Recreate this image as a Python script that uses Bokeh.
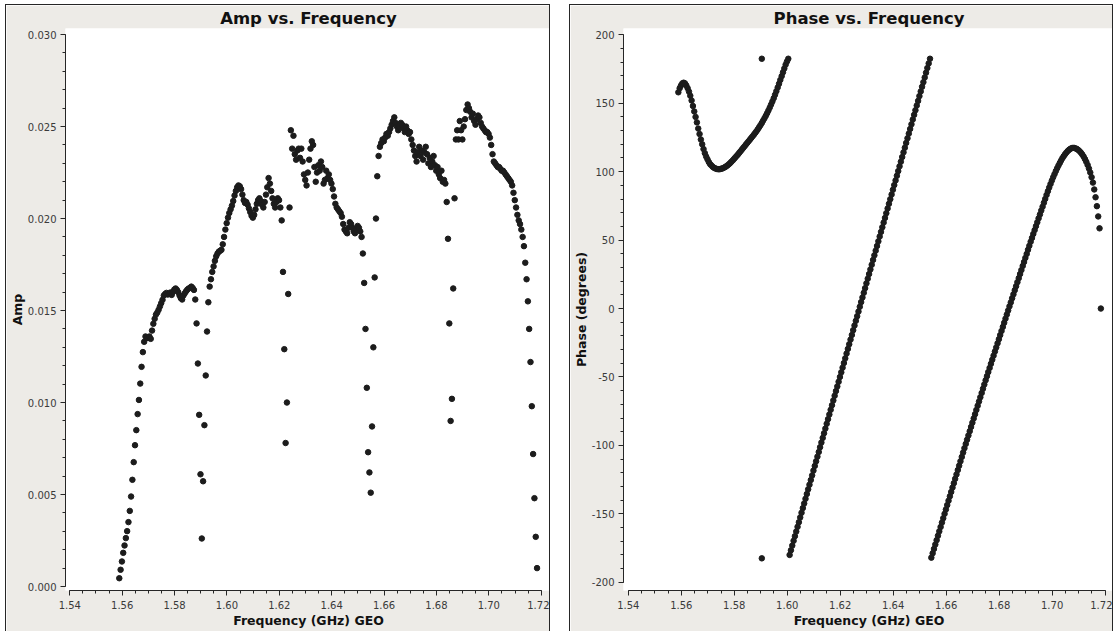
import numpy as np
from bokeh.plotting import figure
from bokeh.layouts import row
from bokeh.models import Range1d, SingleIntervalTicker, NumeralTickFormatter
from bokeh.embed import file_html
from bokeh.resources import INLINE

# Channel grid: 5 sub-bands x 64 channels, 0.5 MHz wide
FIRST_CHANNEL_GHZ = 1.5589
CHANNEL_WIDTH_GHZ = 0.0005
N_CHANNELS = 320

# Visibility amplitude per channel
AMP = [
    # sub-band 1
    0.00045, 0.00091, 0.00136, 0.00183, 0.00223, 0.00263, 0.00301, 0.00350, 0.00411, 0.00489,
    0.00580, 0.00676, 0.00768, 0.00850, 0.00937, 0.01014, 0.01103, 0.01194, 0.01274, 0.01330,
    0.01359, 0.01351, 0.01351, 0.01359, 0.01346, 0.01391, 0.01428, 0.01455, 0.01478, 0.01489,
    0.01504, 0.01522, 0.01540, 0.01558, 0.01582, 0.01590, 0.01596, 0.01587, 0.01590, 0.01598,
    0.01585, 0.01601, 0.01614, 0.01620, 0.01612, 0.01600, 0.01582, 0.01567, 0.01560, 0.01582,
    0.01594, 0.01605, 0.01614, 0.01620, 0.01623, 0.01630, 0.01623, 0.01612, 0.01560, 0.01430,
    0.01212, 0.00933, 0.00610, 0.00261,
    # sub-band 2
    0.00572, 0.00877, 0.01147, 0.01386, 0.01545, 0.01630, 0.01670, 0.01710, 0.01740, 0.01770,
    0.01795, 0.01810, 0.01820, 0.01825, 0.01830, 0.01860, 0.01900, 0.01940, 0.01975, 0.02005,
    0.02030, 0.02050, 0.02070, 0.02095, 0.02125, 0.02150, 0.02170, 0.02180, 0.02175, 0.02160,
    0.02130, 0.02100, 0.02085, 0.02090, 0.02075, 0.02055, 0.02035, 0.02015, 0.02005, 0.02020,
    0.02050, 0.02080, 0.02100, 0.02110, 0.02095, 0.02075, 0.02060, 0.02090, 0.02130, 0.02170,
    0.02220, 0.02190, 0.02150, 0.02110, 0.02080, 0.02060, 0.02090, 0.02110, 0.02100, 0.02060,
    0.01990, 0.01710, 0.01290, 0.00780,
    # sub-band 3
    0.01000, 0.01590, 0.02060, 0.02480, 0.02380, 0.02450, 0.02350, 0.02320, 0.02370, 0.02380,
    0.02330, 0.02380, 0.02310, 0.02240, 0.02210, 0.02180, 0.02250, 0.02320, 0.02380, 0.02420,
    0.02400, 0.02280, 0.02200, 0.02250, 0.02290, 0.02260, 0.02310, 0.02280, 0.02190, 0.02210,
    0.02260, 0.02220, 0.02240, 0.02210, 0.02190, 0.02160, 0.02120, 0.02080, 0.02060, 0.02050,
    0.02040, 0.02030, 0.02010, 0.01970, 0.01940, 0.01930, 0.01920, 0.01950, 0.01980, 0.01970,
    0.01950, 0.01930, 0.01920, 0.01940, 0.01960, 0.01950, 0.01930, 0.01900, 0.01810, 0.01650,
    0.01400, 0.01080, 0.00730, 0.00620,
    # sub-band 4
    0.00510, 0.00870, 0.01300, 0.01680, 0.02000, 0.02230, 0.02340, 0.02390, 0.02410, 0.02430,
    0.02420, 0.02440, 0.02460, 0.02450, 0.02470, 0.02490, 0.02510, 0.02530, 0.02550, 0.02520,
    0.02500, 0.02480, 0.02500, 0.02520, 0.02510, 0.02490, 0.02470, 0.02500, 0.02480, 0.02460,
    0.02470, 0.02430, 0.02400, 0.02370, 0.02340, 0.02310, 0.02360, 0.02390, 0.02340, 0.02370,
    0.02320, 0.02360, 0.02390, 0.02350, 0.02300, 0.02330, 0.02280, 0.02310, 0.02340, 0.02290,
    0.02260, 0.02280, 0.02240, 0.02220, 0.02260, 0.02200, 0.02210, 0.02190, 0.02090, 0.01890,
    0.01430, 0.00900, 0.01020, 0.01620,
    # sub-band 5
    0.02110, 0.02430, 0.02480, 0.02430, 0.02530, 0.02480, 0.02430, 0.02500, 0.02540, 0.02590,
    0.02620, 0.02600, 0.02580, 0.02550, 0.02570, 0.02530, 0.02510, 0.02540, 0.02560, 0.02550,
    0.02520, 0.02500, 0.02490, 0.02480, 0.02470, 0.02470, 0.02460, 0.02440, 0.02400, 0.02350,
    0.02310, 0.02300, 0.02290, 0.02280, 0.02280, 0.02270, 0.02260, 0.02260, 0.02250, 0.02240,
    0.02230, 0.02220, 0.02210, 0.02200, 0.02180, 0.02140, 0.02100, 0.02060, 0.02020, 0.01990,
    0.01970, 0.01940, 0.01900, 0.01850, 0.01760, 0.01670, 0.01550, 0.01400, 0.01220, 0.00980,
    0.00720, 0.00480, 0.00270, 0.00100,
]

# Visibility phase per channel (degrees)
PHASE_DEG = [
    158.0, 161.0, 163.0, 164.5, 165.0, 164.5, 163.0, 161.0, 158.5, 155.5,
    152.0, 148.0, 144.0, 140.0, 136.0, 131.5, 127.5, 123.5, 120.0, 116.5,
    113.5, 111.0, 109.0, 107.0, 105.5, 104.5, 103.5, 102.8, 102.3, 102.0,
    101.8, 101.8, 102.0, 102.3, 102.7, 103.2, 103.8, 104.5, 105.3, 106.2,
    107.2, 108.2, 109.3, 110.4, 111.5, 112.6, 113.8, 115.0, 116.2, 117.4,
    118.6, 119.8, 121.0, 122.2, 123.4, 124.6, 125.8, 127.0, 128.3, 129.6,
    131.0, 132.5, 134.0, 135.6, 137.3, 139.0, 140.8, 142.7, 144.7, 146.8,
    149.0, 151.3, 153.7, 156.2, 158.8, 161.5, 164.2, 167.0, 169.8, 172.6,
    175.4, 178.2, 180.5, 182.5,
    -180.0, -176.6, -173.2, -169.7, -166.3, -162.9, -159.5, -156.1, -152.6, -149.2,
    -145.8, -142.4, -139.0, -135.5, -132.1, -128.7, -125.3, -121.9, -118.4, -115.0,
    -111.6, -108.2, -104.8, -101.3, -97.9, -94.5, -91.1, -87.7, -84.2, -80.8,
    -77.4, -74.0, -70.6, -67.1, -63.7, -60.3, -56.9, -53.5, -50.0, -46.6,
    -43.2, -39.8, -36.4, -32.9, -29.5, -26.1, -22.7, -19.3, -15.8, -12.4,
    -9.0, -5.6, -2.2, 1.3, 4.7, 8.1, 11.5, 14.9, 18.4, 21.8,
    25.2, 28.6, 32.0, 35.5, 38.9, 42.3, 45.7, 49.1, 52.6, 56.0,
    59.4, 62.8, 66.2, 69.7, 73.1, 76.5, 79.9, 83.3, 86.8, 90.2,
    93.6, 97.0, 100.4, 103.9, 107.3, 110.7, 114.1, 117.5, 121.0, 124.4,
    127.8, 131.2, 134.6, 138.1, 141.5, 144.9, 148.3, 151.7, 155.2, 158.6,
    162.0, 165.4, 168.8, 172.3, 175.7, 179.1, 182.5,
    -182.0,
    -178.8, -175.6, -172.4, -169.2, -166.0, -162.8, -159.6, -156.4, -153.2, -150.0,
    -146.8, -143.6, -140.4, -137.2, -134.0, -130.8, -127.6, -124.4, -121.2, -118.0,
    -114.8, -111.6, -108.4, -105.2, -102.0,
    -98.9, -95.8, -92.7, -89.6, -86.5, -83.4, -80.3, -77.2, -74.1, -71.0,
    -67.9, -64.8, -61.7, -58.6, -55.5, -52.4,
    -49.4, -46.4, -43.4, -40.4, -37.4, -34.4, -31.4, -28.4, -25.4, -22.4,
    -19.4, -16.4, -13.4, -10.4, -7.4, -4.4, -1.4,
    1.6, 4.5, 7.5, 10.4, 13.4, 16.3, 19.3, 22.2, 25.2, 28.1,
    31.1, 34.0, 37.0, 39.9, 42.9, 45.8, 48.8,
    51.6, 54.5, 57.3, 60.2, 63.0, 65.9, 68.7, 71.6, 74.4, 77.3, 80.1, 83.0,
    85.7, 88.4, 91.0, 93.5, 95.9, 98.2, 100.4, 102.5, 104.5, 106.4,
    108.2, 109.9, 111.4, 112.8, 114.0, 115.1, 116.0, 116.7, 117.2, 117.4,
    117.3, 117.0, 116.5, 115.8, 114.9, 113.8, 112.5, 111.0, 109.2, 107.2,
    104.9, 102.3, 99.4, 96.0, 92.0, 87.0, 81.3, 74.8, 67.3, 58.6,
    0.0,
]

# Phase of the sub-band edge channel, shown wrapped at both +/-180
WRAP_FREQ_GHZ = [1.5904, 1.5904]
WRAP_PHASE_DEG = [182.5, -182.5]

X_LABEL = "Frequency (GHz) GEO"
PANEL_BG = "#edebe7"
EDGE = "#262626"
DOT = "#1c1c1c"
FONT = "DejaVu Sans"

freq = FIRST_CHANNEL_GHZ + CHANNEL_WIDTH_GHZ * np.arange(N_CHANNELS)


def make_panel(title, y_label, x_range, y_range, y_bounds, y_step, y_fmt, width, left):
    p = figure(width=width, height=627, output_backend="svg", toolbar_location=None,
               x_range=x_range, y_range=y_range,
               min_border_left=left, min_border_right=0,
               min_border_top=23, min_border_bottom=42)
    p.styles = {"border-top": f"1px solid {EDGE}", "border-left": f"1px solid {EDGE}",
                "border-right": f"1px solid {EDGE}"}
    p.background_fill_color = "white"
    p.border_fill_color = PANEL_BG
    p.outline_line_color = None
    p.grid.visible = False

    p.title.text = title
    p.title.align = "center"
    p.title.text_font = FONT
    p.title.text_font_size = "16.5px"
    p.title.text_font_style = "bold"
    p.title.text_color = "#111111"
    p.title.standoff = 2

    xa = p.xaxis[0]
    xa.ticker = SingleIntervalTicker(interval=0.02, num_minor_ticks=4)
    xa.formatter = NumeralTickFormatter(format="0.00")
    xa.bounds = (1.54, 1.72)
    xa.axis_label = X_LABEL

    ya = p.yaxis[0]
    ya.ticker = SingleIntervalTicker(interval=y_step, num_minor_ticks=5)
    ya.formatter = NumeralTickFormatter(format=y_fmt)
    ya.bounds = y_bounds
    ya.axis_label = y_label

    for ax in (xa, ya):
        ax.axis_line_color = EDGE
        ax.major_tick_line_color = EDGE
        ax.minor_tick_line_color = EDGE
        ax.major_tick_in = 0
        ax.major_tick_out = 5
        ax.minor_tick_in = 0
        ax.minor_tick_out = 3
        ax.major_label_text_font = FONT
        ax.major_label_text_font_size = "10px"
        ax.major_label_text_color = "#3a3a3a"
        ax.axis_label_text_font = FONT
        ax.axis_label_text_font_size = "12.5px"
        ax.axis_label_text_font_style = "bold"
        ax.axis_label_text_color = "#111111"
    xa.major_label_standoff = 5
    xa.axis_label_standoff = 1
    ya.major_label_standoff = 4
    ya.axis_label_standoff = 0
    return p


amp_plot = make_panel("Amp vs. Frequency", "Amp",
                      Range1d(1.53836, 1.72392), Range1d(-0.000217, 0.03033),
                      (0.0, 0.03), 0.005, "0.000", 545, 58)
amp_plot.scatter(freq, AMP, size=5.5, color=DOT)
amp_plot.margin = (4, 0, 0, 5)

phase_plot = make_panel("Phase vs. Frequency", "Phase (degrees)",
                        Range1d(1.53819, 1.72355), Range1d(-206.0, 204.6),
                        (-200, 200), 50, "0", 544, 52)
phase_plot.scatter(freq, PHASE_DEG, size=5.5, color=DOT)
phase_plot.scatter(WRAP_FREQ_GHZ, WRAP_PHASE_DEG, size=5.5, color=DOT)
phase_plot.margin = (4, 0, 0, 19)

layout = row(amp_plot, phase_plot)

open("out.html", "w").write(file_html(layout, INLINE))
